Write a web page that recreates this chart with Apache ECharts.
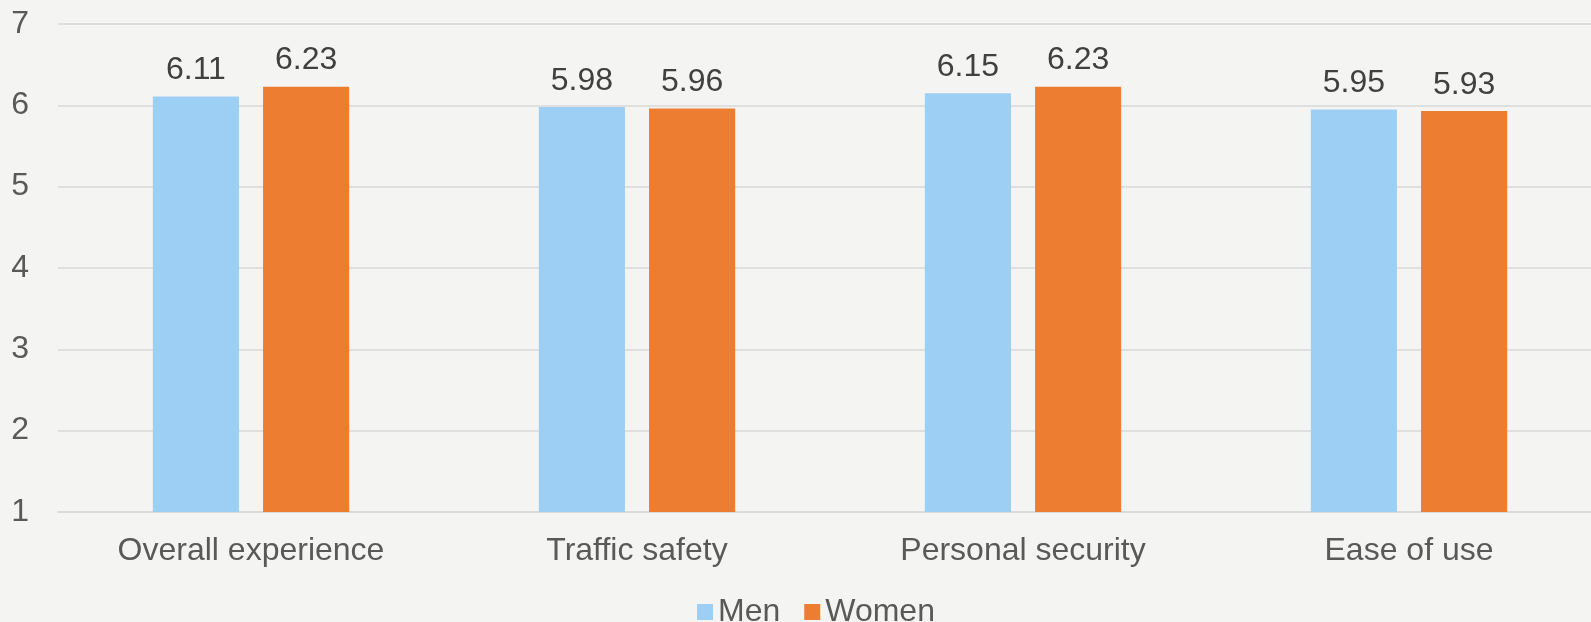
<!DOCTYPE html>
<html>
<head>
<meta charset="utf-8">
<script src="https://cdn.jsdelivr.net/npm/echarts@6/dist/echarts.min.js"></script>
<style>
  html, body { margin: 0; padding: 0; background: #F4F4F2; }
  #chart { width: 1591px; height: 622px; }
</style>
</head>
<body>
<div id="chart"></div>
<script>
// Average ratings by aspect, split by gender
const categories = ['Overall experience', 'Traffic safety', 'Personal security', 'Ease of use'];
const menValues = [6.11, 5.98, 6.15, 5.95];
const womenValues = [6.23, 5.96, 6.23, 5.93];
const seriesNames = ['Men', 'Women'];

const FONT = '"Liberation Sans", Arial, sans-serif';
const FS = 32;
const chart = echarts.init(document.getElementById('chart'), null, { renderer: 'canvas' });

const labelStyle = {
  show: true,
  position: 'top',
  distance: 10,
  color: '#404040',
  fontSize: FS,
  fontFamily: FONT,
  formatter: p => p.value.toFixed(2)
};

chart.setOption({
  backgroundColor: '#F4F4F2',
  animation: false,
  // plot area runs slightly past the right edge of the canvas
  grid: { left: 58, top: 24, right: -11, bottom: 110, outerBoundsMode: 'none' },
  legend: {
    data: seriesNames,
    top: 591,
    left: 692,
    icon: 'rect',
    itemWidth: 16,
    itemHeight: 16,
    itemGap: 24,
    textStyle: { fontSize: FS, color: '#595959', fontFamily: FONT }
  },
  xAxis: {
    type: 'category',
    data: categories,
    axisTick: { show: false },
    axisLine: { show: true, lineStyle: { color: '#D9D9D9', width: 1.5 } },
    axisLabel: { color: '#595959', fontSize: FS, fontFamily: FONT, margin: 23 }
  },
  yAxis: {
    type: 'value',
    min: 1,
    max: 7,
    interval: 1,
    axisLine: { show: false },
    axisTick: { show: false },
    splitLine: { lineStyle: { color: '#D9D9D9', width: 1.5 } },
    axisLabel: { color: '#595959', fontSize: FS, fontFamily: FONT, margin: 29 }
  },
  series: [
    {
      name: seriesNames[0],
      type: 'bar',
      data: menValues,
      barWidth: '22.3%',
      barGap: '28%',
      itemStyle: { color: '#9DCEF3' },
      label: labelStyle
    },
    {
      name: seriesNames[1],
      type: 'bar',
      data: womenValues,
      barWidth: '22.3%',
      barGap: '28%',
      itemStyle: { color: '#ED7D31' },
      label: labelStyle
    }
  ]
});
</script>
</body>
</html>
